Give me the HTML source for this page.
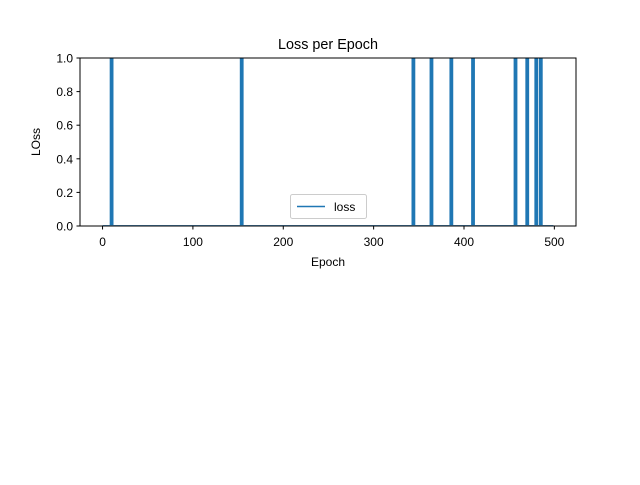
<!DOCTYPE html>
<html><head><meta charset="utf-8"><style>
body{margin:0;background:#fff;}
svg text{font-family:"Liberation Sans","DejaVu Sans",sans-serif;fill:#000;}
</style></head><body>
<svg width="640" height="480" id="chart">
<defs><clipPath id="clip"><rect x="80" y="58" width="496" height="167.4"/></clipPath></defs>
<rect x="0" y="0" width="640" height="480" fill="#fff"/>
<text x="328" y="49" text-anchor="middle" font-size="14.4">Loss per Epoch</text>
<g id="plot" clip-path="url(#clip)"></g>
<rect x="80" y="58" width="496" height="168" fill="none" stroke="#000" stroke-width="1"/>
<g id="axes"></g>
<text x="328" y="266" text-anchor="middle" font-size="12">Epoch</text>
<text transform="translate(40,142) rotate(-90)" text-anchor="middle" font-size="12">LOss</text>
<g>
<rect x="290.5" y="194.5" width="76" height="24" rx="2" fill="#fff" fill-opacity="0.8" stroke="#ccc"/>
<line x1="297" y1="206.5" x2="325" y2="206.5" stroke="#1f77b4" stroke-width="1.5"/>
<text x="334" y="211" font-size="12">loss</text>
</g>
</svg>
<script>
const spikeEpochs=[10,154,344,364,386,410,457,470,480,485];
const spikeValues=[200,200,200,200,200,200,200,200,200,200];
const nEpochs=500;
const xTicks=[0,100,200,300,400,500];
const yTicks=[0,0.2,0.4,0.6,0.8,1.0];
const yTickLabels=["0.0","0.2","0.4","0.6","0.8","1.0"];
const NS="http://www.w3.org/2000/svg";
const xmin=-24.95,xmax=523.95;
function xs(v){return 80+(v-xmin)/(xmax-xmin)*496;}
function ys(v){return 226-v*168;}
const vals=new Array(nEpochs).fill(0);
spikeEpochs.forEach((e,i)=>{vals[e]=spikeValues[i];});
let d="";
vals.forEach((v,i)=>{d+=(i?"L":"M")+xs(i).toFixed(2)+","+ys(v).toFixed(2);});
const p=document.createElementNS(NS,"path");
p.setAttribute("d",d);p.setAttribute("fill","none");p.setAttribute("stroke","#1f77b4");p.setAttribute("stroke-width","2");p.setAttribute("stroke-linejoin","round");


document.getElementById("plot").appendChild(p);
const ax=document.getElementById("axes");
xTicks.forEach(t=>{
 const l=document.createElementNS(NS,"line");
 l.setAttribute("x1",xs(t));l.setAttribute("x2",xs(t));l.setAttribute("y1",226);l.setAttribute("y2",229.5);l.setAttribute("stroke","#000");
 
 
 ax.appendChild(l);
 const tx=document.createElementNS(NS,"text");
 tx.setAttribute("x",xs(t));tx.setAttribute("y",246);tx.setAttribute("text-anchor","middle");tx.setAttribute("font-size","12");
 tx.textContent=t;
 
 
 ax.appendChild(tx);
});
yTicks.forEach((t,i)=>{
 const l=document.createElementNS(NS,"line");
 l.setAttribute("x1",76.5);l.setAttribute("x2",80);l.setAttribute("y1",ys(t));l.setAttribute("y2",ys(t));l.setAttribute("stroke","#000");
 
 
 ax.appendChild(l);
 const tx=document.createElementNS(NS,"text");
 tx.setAttribute("x",73);tx.setAttribute("y",ys(t)+4.5);tx.setAttribute("text-anchor","end");tx.setAttribute("font-size","12");
 tx.textContent=yTickLabels[i];
 
 
 ax.appendChild(tx);
});
</script>
</body></html>
